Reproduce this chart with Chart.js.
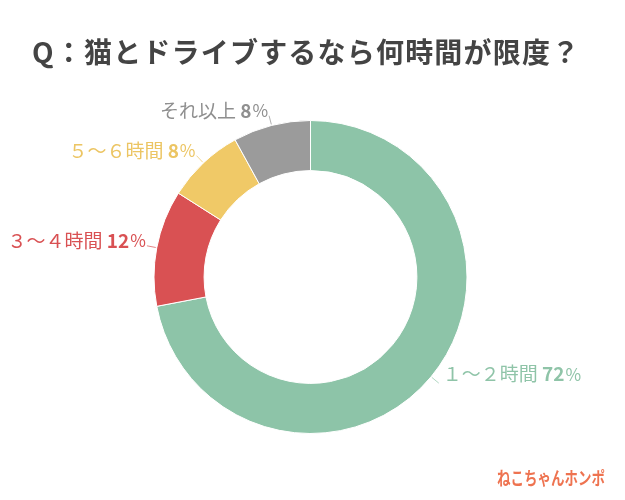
<!DOCTYPE html>
<html>
<head>
<meta charset="utf-8">
<script src="https://cdn.jsdelivr.net/npm/chart.js@4"></script>
<style>
  html, body { margin: 0; padding: 0; background: #fff; }
  #wrap { width: 625px; height: 500px; position: relative; }
</style>
</head>
<body>
<div id="wrap"><canvas id="donut" width="625" height="500"></canvas></div>
<script>
// Data
const categories = ['１～２時間', '３～４時間', '５～６時間', 'それ以上'];
const shares = [72, 12, 8, 8];
const sliceColors = ['#8dc4a8', '#d95153', '#f0c967', '#9b9b9b'];
const labelColors = ['#8fc4a8', '#d95153', '#ecc563', '#8f8f8f'];

const titleText = 'Q：猫とドライブするなら何時間が限度？';
const logoText = 'ねこちゃんホンポ';

const jpFont = '"Noto Sans CJK JP", "Noto Sans", sans-serif';

// Draws the title, the outside labels with their leader lines, and the logo
const labelPlugin = {
    id: 'outsideLabels',
    afterDraw(chart) {
        const ctx = chart.ctx;
        ctx.save();

        // Title
        ctx.fillStyle = '#444444';
        ctx.font = 'bold 28px ' + jpFont;
        ctx.letterSpacing = '1.2px';
        ctx.textAlign = 'left';
        ctx.textBaseline = 'middle';
        ctx.fillText(titleText, 32, 52);
        ctx.letterSpacing = '0px';

        // Labels
        const meta = chart.getDatasetMeta(0);
        meta.data.forEach((arc, i) => {
            const p = arc.getProps(['x', 'y', 'startAngle', 'endAngle', 'outerRadius']);
            const mid = (p.startAngle + p.endAngle) / 2;
            const cos = Math.cos(mid), sin = Math.sin(mid);
            const x0 = p.x + cos * (p.outerRadius + 1);
            const y0 = p.y + sin * (p.outerRadius + 1);
            const x1 = p.x + cos * (p.outerRadius + 10);
            const y1 = p.y + sin * (p.outerRadius + 10);

            ctx.strokeStyle = labelColors[i];
            ctx.globalAlpha = 0.7;
            ctx.lineWidth = 1;
            ctx.beginPath();
            ctx.moveTo(x0, y0);
            ctx.lineTo(x1, y1);
            ctx.stroke();
            ctx.globalAlpha = 1;

            const parts = [
                { t: categories[i] + ' ', f: '19px ' + jpFont },
                { t: String(shares[i]), f: 'bold 19px ' + jpFont },
                { t: '%', f: '17px ' + jpFont }
            ];
            let total = 0;
            parts.forEach(pt => { ctx.font = pt.f; pt.w = ctx.measureText(pt.t).width; total += pt.w; });

            const right = cos < 0;
            let x = right ? x1 - 2 - total : x1 + 4;
            const y = right ? y1 - 5 : y1 - 9;
            ctx.fillStyle = labelColors[i];
            ctx.textAlign = 'left';
            ctx.textBaseline = 'middle';
            parts.forEach(pt => {
                ctx.font = pt.f;
                ctx.fillText(pt.t, x, y);
                x += pt.w + (pt.t === String(shares[i]) ? 1 : 0);
            });
        });

        // Logo, squeezed sideways to the reference's width
        ctx.fillStyle = '#ee7350';
        ctx.font = 'bold 18px ' + jpFont;
        ctx.textAlign = 'left';
        ctx.textBaseline = 'middle';
        const lw = ctx.measureText(logoText).width;
        ctx.translate(497, 478);
        ctx.scale(108 / lw, 1);
        ctx.fillText(logoText, 0, 0);

        ctx.restore();
    }
};

new Chart(document.getElementById('donut'), {
    type: 'doughnut',
    data: {
        labels: categories,
        datasets: [{
            data: shares,
            backgroundColor: sliceColors,
            borderColor: '#ffffff',
            borderWidth: 1,
            hoverOffset: 0
        }]
    },
    options: {
        responsive: false,
        animation: false,
        cutout: '68%',
        layout: {
            padding: { left: 153, right: 157, top: 120, bottom: 66 }
        },
        plugins: {
            legend: { display: false },
            title: { display: false },
            tooltip: { enabled: false }
        }
    },
    plugins: [labelPlugin]
});
</script>
</body>
</html>
